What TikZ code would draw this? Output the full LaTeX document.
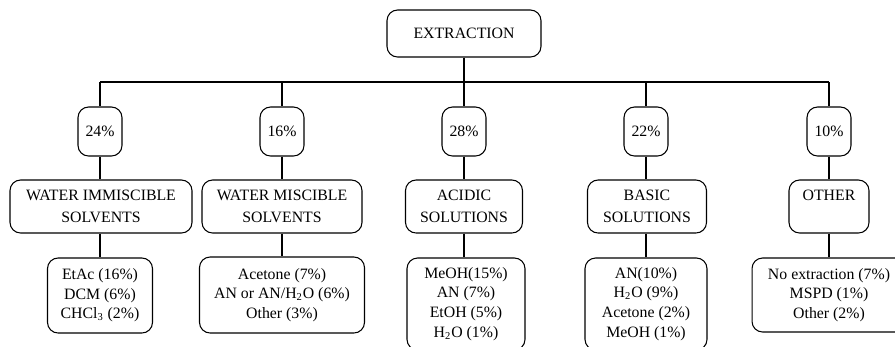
\documentclass[tikz,border=0pt]{standalone}
\usepackage{fontspec}
\setmainfont{Liberation Serif}
\begin{document}
\begin{tikzpicture}[x=0.02cm, y=-0.02cm, line width=0.6pt,
	box/.style={draw, rounded corners=6pt, align=center, inner sep=2pt,
		font=\fontsize{9}{11.2}\selectfont},
	pct/.style={box, minimum width=0.88cm, minimum height=0.98cm},
	cat/.style={box, minimum height=1.06cm, font=\fontsize{9}{12.4}\selectfont}]
	\useasboundingbox (0, 0) rectangle (895, 346);
	\clip (0, 0) rectangle (895, 346);

	\node[box, minimum width=3.08cm, minimum height=0.94cm] (ext) at (464, 33.5) {EXTRACTION};
	\coordinate (bar) at (0, 82);

	\node[pct] (p1) at (100, 131.5) {24\%};
	\node[pct] (p2) at (282, 131.5) {16\%};
	\node[pct] (p3) at (464, 131.5) {28\%};
	\node[pct] (p4) at (646, 131.5) {22\%};
	\node[pct] (p5) at (829, 131.5) {10\%};

	\node[cat, minimum width=3.64cm] (c1) at (101, 206.5) {WATER IMMISCIBLE\\SOLVENTS};
	\node[cat, minimum width=3.2cm] (c2) at (282, 206.5) {WATER MISCIBLE\\SOLVENTS};
	\node[cat, minimum width=2.34cm] (c3) at (464, 206.5) {ACIDIC\\SOLUTIONS};
	\node[cat, minimum width=2.38cm] (c4) at (647, 206.5) {BASIC\\SOLUTIONS};
	\node[cat, minimum width=1.6cm] (c5) at (829, 206.5) {OTHER\\\mbox{}};

	\node[box, minimum width=2.1cm, minimum height=1.5cm] (l1) at (100, 295.5)
		{EtAc (16\%)\\DCM (6\%)\\CHCl\textsubscript{3} (2\%)};
	\node[box, minimum width=3.3cm, minimum height=1.52cm] (l2) at (282, 295)
		{Acetone (7\%)\\AN or AN/H\textsubscript{2}O (6\%)\\Other (3\%)};
	\node[box, minimum width=2.36cm, minimum height=1.84cm] (l3) at (466, 304)
		{MeOH(15\%)\\AN (7\%)\\EtOH (5\%)\\H\textsubscript{2}O (1\%)};
	\node[box, minimum width=2.44cm, minimum height=1.84cm] (l4) at (646, 304)
		{AN(10\%)\\H\textsubscript{2}O (9\%)\\Acetone (2\%)\\MeOH (1\%)};
	\node[box, minimum width=3.08cm, minimum height=1.48cm] (l5) at (829, 295)
		{No extraction (7\%)\\MSPD (1\%)\\Other (2\%)};

	\draw (ext.south) -- (ext.south |- bar);
	\draw (p1.north |- bar) -- (p5.north |- bar);
	\foreach \i in {1,...,5} {
		\draw (p\i.north |- bar) -- (p\i.north);
		\draw (p\i.south) -- (p\i.south |- c\i.north);
		\draw (c\i.south -| p\i) -- (p\i |- l\i.north);
	}
\end{tikzpicture}
\end{document}
